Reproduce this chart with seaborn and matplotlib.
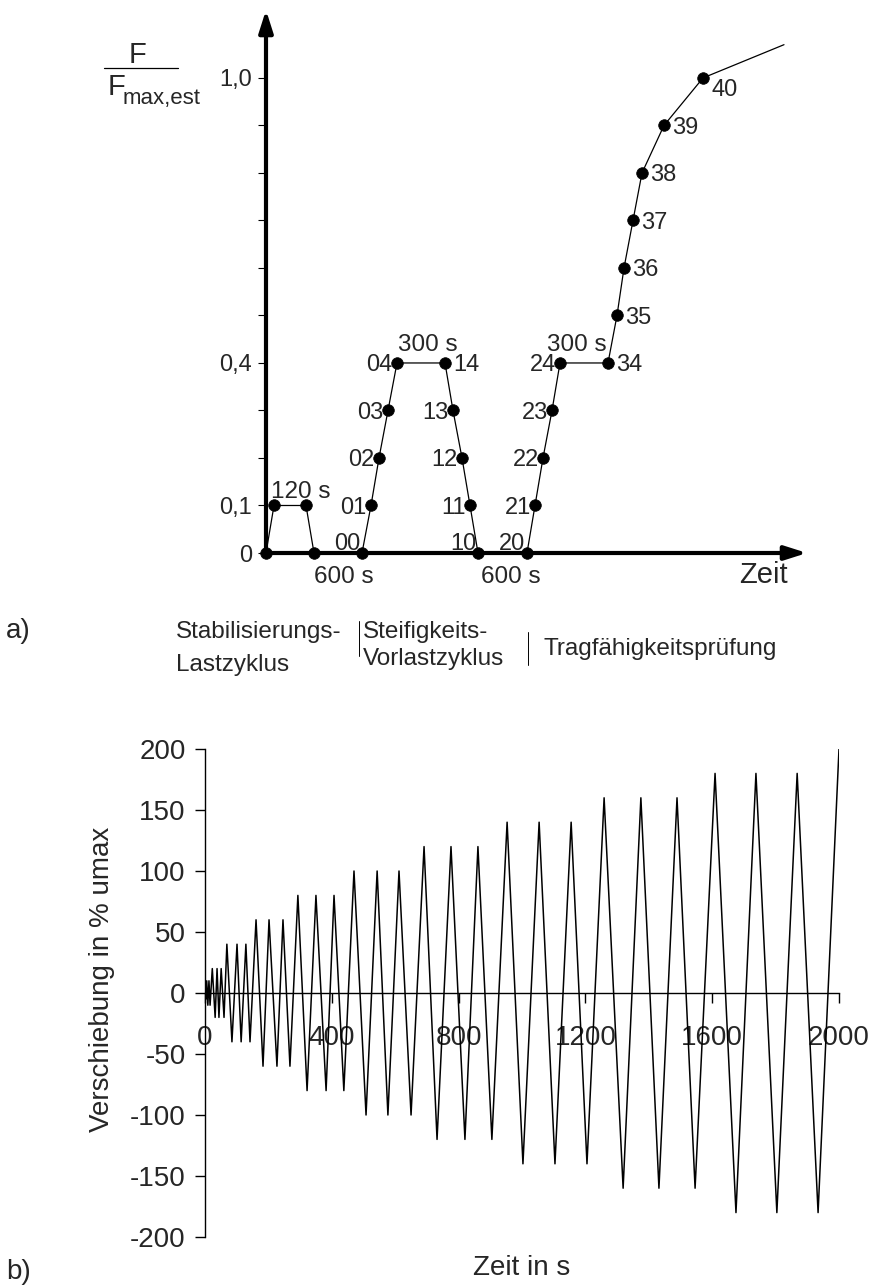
import matplotlib
matplotlib.use("Agg")
import matplotlib.pyplot as plt
import seaborn as sns

# a) load history, schematic time axis (arbitrary units), load as F / F_max,est
load_time = [0, 8, 40, 48, 96, 105, 113, 122, 131, 179, 187, 196, 204, 212,
             261, 269, 277, 286, 294, 342, 351, 358, 367, 376, 398, 437, 518]
load_ratio = [0, 0.1, 0.1, 0, 0, 0.1, 0.2, 0.3, 0.4, 0.4, 0.3, 0.2, 0.1, 0,
              0, 0.1, 0.2, 0.3, 0.4, 0.4, 0.5, 0.6, 0.7, 0.8, 0.9, 1.0, 1.07]
step_names = ["", "", "", "", "00", "01", "02", "03", "04", "14", "13", "12", "11", "10",
              "20", "21", "22", "23", "24", "34", "35", "36", "37", "38", "39", "40"]
load_ticks = [0.0, 0.1, 0.2, 0.3, 0.4, 0.5, 0.6, 0.7, 0.8, 0.9, 1.0]
load_tick_labels = ["0", "0,1", "", "", "0,4", "", "", "", "", "", "1,0"]
hold_texts = ["120 s", "600 s", "300 s", "600 s", "300 s"]

# b) cyclic displacement history, turning points
disp_time = [0, 1, 3, 5.5, 9, 12.5, 16, 23, 32, 38, 44, 51, 60,
             69, 85, 101, 114, 129, 142,
             161, 183, 202, 227, 246, 268,
             293, 322, 350, 382, 407, 438,
             470, 508, 543, 577, 612, 650,
             691, 732, 776, 820, 861, 905,
             953, 1003, 1054, 1104, 1155, 1205,
             1259, 1319, 1375, 1432, 1489, 1546,
             1609, 1675, 1738, 1804, 1868, 1934, 2000]
disp_value = [0, 5, -5, 10, -10, 10, -10, 20, -20, 20, -20, 20, -20,
              40, -40, 40, -40, 40, -40,
              60, -60, 60, -60, 60, -60,
              80, -80, 80, -80, 80, -80,
              100, -100, 100, -100, 100, -100,
              120, -120, 120, -120, 120, -120,
              140, -140, 140, -140, 140, -140,
              160, -160, 160, -160, 160, -160,
              180, -180, 180, -180, 180, -180, 200]
disp_ticks_x = [0, 400, 800, 1200, 1600, 2000]
disp_ticks_y = [200, 150, 100, 50, 0, -50, -100, -150, -200]

sns.set_theme(style="white")
plt.rcParams["font.family"] = ["Liberation Sans", "DejaVu Sans"]
plt.rcParams["axes.unicode_minus"] = False

W, H = 873, 1288


def px_box(left, top, right, bottom):
    return [left / W, 1 - bottom / H, (right - left) / W, (bottom - top) / H]


fig = plt.figure(figsize=(W / 100, H / 100), dpi=100)

# overlay for captions
ax_over = fig.add_axes([0, 0, 1, 1], zorder=-1)
ax_over.set_xlim(0, W)
ax_over.set_ylim(H, 0)
ax_over.axis("off")

# ---------------- a) ----------------
ax_a = fig.add_axes(px_box(266, 10, 807, 553))
ax_a.set_xlim(0, 541)
ax_a.set_ylim(0, 1.143)
for spine in ax_a.spines.values():
    spine.set_visible(False)

sns.lineplot(x=load_time, y=load_ratio, ax=ax_a, color="black", linewidth=0.9,
             sort=False, estimator=None, zorder=3)
sns.scatterplot(x=load_time[:-1], y=load_ratio[:-1], ax=ax_a, color="black",
                s=70, edgecolor="black", linewidth=0.5, zorder=4, clip_on=False)

arrow = dict(arrowstyle="-|>,head_length=1.1,head_width=0.35", lw=3, color="black",
             shrinkA=0, shrinkB=0)
ax_a.annotate("", xy=(0, 1.143), xytext=(0, 0), arrowprops=arrow, annotation_clip=False)
ax_a.annotate("", xy=(541, 0), xytext=(-1, 0), arrowprops=arrow, annotation_clip=False)

ax_a.set_xticks([])
ax_a.set_yticks(load_ticks, load_tick_labels)
ax_a.tick_params(axis="y", left=True, direction="out", length=6, width=0.8,
                 pad=4, labelsize=17, color="black")

right_side = {"14", "34", "35", "36", "37", "38", "39"}
zero_side = {"00", "10", "20"}
for name, tx, ty in zip(step_names, load_time, load_ratio):
    if not name:
        continue
    if name in right_side:
        kw = dict(xytext=(6, 0), ha="left", va="center_baseline")
    elif name in zero_side:
        kw = dict(xytext=(-1, 2), ha="right", va="baseline")
    elif name == "40":
        kw = dict(xytext=(6, -1), ha="left", va="top")
    else:
        kw = dict(xytext=(-3, 0), ha="right", va="center_baseline")
    ax_a.annotate(name, (tx, ty), textcoords="offset points", fontsize=17, **kw)

hold_pos = [(35, 0.116), (78, -0.063), (162, 0.425), (245, -0.063), (311, 0.425)]
for txt, (hx, hy) in zip(hold_texts, hold_pos):
    ax_a.text(hx, hy, txt, ha="center", va="baseline", fontsize=17.5, clip_on=False)
ax_a.text(497, -0.063, "Zeit", ha="center", va="baseline", fontsize=21, clip_on=False)

# y label as fraction
ax_over.text(129, 63, "F", fontsize=21, va="baseline", ha="left")
ax_over.plot([104, 178], [68, 68], color="black", lw=0.9)
ax_over.text(108, 95, "F", fontsize=21, va="baseline", ha="left")
ax_over.text(123, 104, "max,est", fontsize=16, va="baseline", ha="left")

# captions below a)
ax_over.text(6, 631, "a)", fontsize=20, va="center", ha="left")
ax_over.text(176, 632, "Stabilisierungs-", fontsize=17.5, va="center", ha="left")
ax_over.text(176, 665, "Lastzyklus", fontsize=17.5, va="center", ha="left")
ax_over.plot([359, 359], [621, 656], color="black", lw=0.7)
ax_over.text(363, 632, "Steifigkeits-", fontsize=17.5, va="center", ha="left")
ax_over.text(363, 659, "Vorlastzyklus", fontsize=17.5, va="center", ha="left")
ax_over.plot([528, 528], [632, 665], color="black", lw=0.7)
ax_over.text(543, 649, "Tragfähigkeitsprüfung", fontsize=17.5, va="center", ha="left")

# ---------------- b) ----------------
ax_b = fig.add_axes(px_box(205, 749, 839, 1237))
sns.lineplot(x=disp_time, y=disp_value, ax=ax_b, color="black", linewidth=1.1,
             sort=False, estimator=None, zorder=5)
ax_b.set_xlim(0, 2000)
ax_b.set_ylim(-200, 200)
ax_b.spines["top"].set_visible(False)
ax_b.spines["right"].set_visible(False)
ax_b.spines["bottom"].set_position(("data", 0))
for side in ("left", "bottom"):
    ax_b.spines[side].set_color("black")
    ax_b.spines[side].set_linewidth(1.0)
ax_b.set_xticks(disp_ticks_x)
ax_b.set_yticks(disp_ticks_y)
ax_b.tick_params(axis="both", direction="out", length=7, width=1.0, color="black",
                 labelsize=20, left=True, bottom=True)
ax_b.tick_params(axis="x", pad=16)
ax_b.tick_params(axis="y", pad=7)
ax_b.set_ylabel("Verschiebung in % umax", fontsize=20)
ax_b.yaxis.set_label_coords(-0.142, 0.527)
ax_b.set_xlabel("Zeit in s", fontsize=20)
ax_b.xaxis.set_label_coords(0.5, -0.037)
ax_over.text(6, 1272, "b)", fontsize=20, va="center", ha="left")

fig.savefig("out.png", dpi=100)
